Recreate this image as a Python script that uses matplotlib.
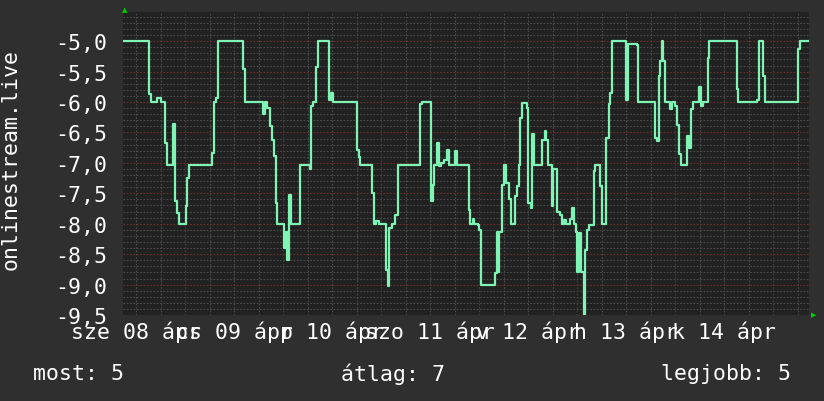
import numpy as np
import matplotlib
matplotlib.use("Agg")
import matplotlib.pyplot as plt

# ---------------- data (hours since 2020-04-08 00:00) ----------------
hours = [8.75, 15.09, 15.66, 17.13, 18.11, 18.94, 19.58, 21.06, 21.47, 22.04,
         22.45, 24.10, 24.49, 24.91, 30.48, 31.04, 31.61, 32.02, 38.16, 38.58,
         43.14, 43.56, 44.12, 44.71, 45.20, 45.77, 46.18, 46.58, 48.22, 48.64,
         49.03, 49.45, 50.01, 52.15, 54.60, 54.92, 55.41, 56.00, 56.64, 59.26,
         59.68, 60.07, 66.06, 66.45, 66.87, 69.64, 70.13, 70.72, 71.36, 73.18,
         73.57, 73.99, 74.65, 75.46, 76.02, 81.60, 82.01, 84.22, 84.61, 85.03,
         85.60, 86.09, 86.67, 87.48, 88.15, 88.54, 90.18, 90.50, 93.45, 93.87,
         94.43, 94.85, 95.66, 96.07, 96.49, 99.93, 100.32, 100.56, 100.98, 101.55,
         102.04, 102.63, 103.19, 103.68, 104.66, 105.23, 105.64, 106.06, 106.55, 107.68,
         107.93, 108.59, 109.01, 109.40, 111.46, 112.02, 112.44, 112.83, 113.82, 114.16,
         115.04, 115.71, 116.27, 116.76, 117.35, 118.16, 118.72, 119.14, 119.80, 120.05,
         120.44, 121.03, 121.60, 122.01, 122.40, 122.90, 124.05, 124.47, 125.69, 126.09,
         127.17, 127.73, 128.15, 128.54, 132.07, 132.47, 134.77, 135.02, 139.02, 139.58,
         140.00, 140.42, 140.74, 141.06, 141.47, 142.70, 143.26, 144.10, 144.59, 144.98,
         145.57, 147.04, 147.44, 147.78, 148.42, 149.89, 150.31, 150.90, 151.95, 152.34,
         159.07, 159.46, 164.12, 164.54, 165.60, 166.01, 174.04, 174.60, 176.90]
values = [-5.00, -5.87, -6.00, -5.93, -6.00, -6.67, -7.03, -6.36, -7.63, -7.82,
          -8.00, -7.71, -7.25, -7.03, -6.83, -6.00, -5.93, -5.00, -5.46, -6.00,
          -6.20, -6.00, -6.10, -6.40, -6.62, -6.89, -7.66, -8.00, -8.40, -8.13,
          -8.59, -7.52, -8.00, -7.03, -7.10, -6.07, -6.00, -5.43, -5.00, -5.96,
          -5.85, -6.00, -6.78, -6.90, -7.03, -7.50, -8.00, -7.96, -8.00, -8.76,
          -9.02, -8.07, -8.00, -7.85, -7.03, -6.04, -6.00, -7.63, -7.36, -7.03,
          -6.67, -7.05, -7.00, -6.95, -6.78, -7.03, -6.80, -7.03, -7.77, -8.00,
          -7.93, -8.00, -8.02, -8.10, -9.00, -8.81, -8.13, -8.79, -8.13, -7.36,
          -7.03, -7.33, -7.60, -8.00, -7.55, -7.38, -7.03, -6.26, -6.02, -6.09,
          -7.66, -7.74, -6.53, -7.03, -6.62, -6.48, -6.62, -7.03, -7.71, -7.10,
          -7.81, -7.85, -8.00, -7.94, -8.00, -7.93, -7.74, -8.00, -8.13, -8.79,
          -8.15, -8.79, -9.50, -8.43, -8.10, -8.02, -7.14, -7.03, -7.38, -8.00,
          -6.59, -6.04, -5.85, -5.00, -5.96, -5.04, -5.07, -6.00, -6.59, -6.64,
          -5.57, -5.33, -5.00, -5.33, -6.00, -6.12, -6.00, -6.07, -6.37, -6.86,
          -7.03, -6.56, -6.75, -6.12, -6.00, -5.76, -6.07, -6.00, -5.27, -5.00,
          -5.79, -6.00, -5.96, -5.00, -5.57, -6.00, -5.13, -5.00, -5.00]

day_labels = ["sze 08 ápr", "cs 09 ápr", "p 10 ápr", "szo 11 ápr",
              "v 12 ápr", "h 13 ápr", "k 14 ápr"]
y_ticks = [-5.0, -5.5, -6.0, -6.5, -7.0, -7.5, -8.0, -8.5, -9.0, -9.5]
legend_texts = ["most: 5", "átlag: 7", "legjobb: 5"]
y_title = "onlinestream.live"

# ---------------- style ----------------
plt.rcParams['font.family'] = ['DejaVu Sans Mono']
outer_bg = '#2f2f2f'
plot_bg = '#212121'
line_col = '#7ef5b5'
minor_col = '#4c4c4c'
major_col = '#6e2e2e'
fs = 15.5

fig = plt.figure(figsize=(8.24, 4.02), dpi=100, facecolor=outer_bg)
ax = fig.add_axes([0.1493, 0.2139, 0.8331, 0.7538], facecolor=plot_bg)

x_start, x_end = 8.75, 176.93
ax.set_xlim(x_start, x_end)
ax.set_ylim(-9.5, -4.52)

# grid (gray every 6 h / 0.1, red every day / 0.5)
dots = (0, (1.5, 1.5))
for h in np.arange(12, x_end, 6):
    if h % 24 != 0:
        ax.axvline(h, color=minor_col, lw=0.8, ls=dots, zorder=1)
for v in np.arange(-9.4, -4.5, 0.1):
    if abs(v * 2 - round(v * 2)) > 1e-6:
        ax.axhline(v, color=minor_col, lw=0.8, ls=dots, zorder=1)
for h in np.arange(24, x_end, 24):
    ax.axvline(h, color=major_col, lw=0.8, ls=dots, zorder=1)
for v in y_ticks:
    ax.axhline(v, color=major_col, lw=0.8, ls=dots, zorder=1)

ax.step(hours, values, where='post', color=line_col, lw=1.6, zorder=3)

# ticks
ax.set_yticks(y_ticks)
ax.set_yticklabels([f"{v:.1f}".replace('.', ',') for v in y_ticks])
noons = [12 + 24 * i for i in range(len(day_labels))]
ax.set_xticks(noons)
ax.set_xticklabels(day_labels)
ax.tick_params(axis='both', length=0, colors='white', labelsize=fs)
ax.tick_params(axis='y', pad=11)
ax.tick_params(axis='x', pad=4)

for s in ax.spines.values():
    s.set_visible(False)

# axis arrows
fig.text(124.5 / 824, 1 - 10 / 402, '▲', color='#00d000', fontsize=5,
         ha='center', va='center', family='DejaVu Sans')
fig.text(814 / 824, 1 - 315 / 402, '▶', color='#00d000', fontsize=5,
         ha='center', va='center', family='DejaVu Sans')

# y title and legend
fig.text(11 / 824, 1 - 160 / 402, y_title, rotation=90, color='white',
         fontsize=fs, ha='center', va='center')
fig.text(33 / 824, 1 - 374 / 402, legend_texts[0], color='white',
         fontsize=fs, ha='left', va='center')
fig.text(341 / 824, 1 - 374 / 402, legend_texts[1], color='white',
         fontsize=fs, ha='left', va='center')
fig.text(791 / 824, 1 - 374 / 402, legend_texts[2], color='white',
         fontsize=fs, ha='right', va='center')

fig.savefig("out.png", dpi=100, facecolor=outer_bg)
